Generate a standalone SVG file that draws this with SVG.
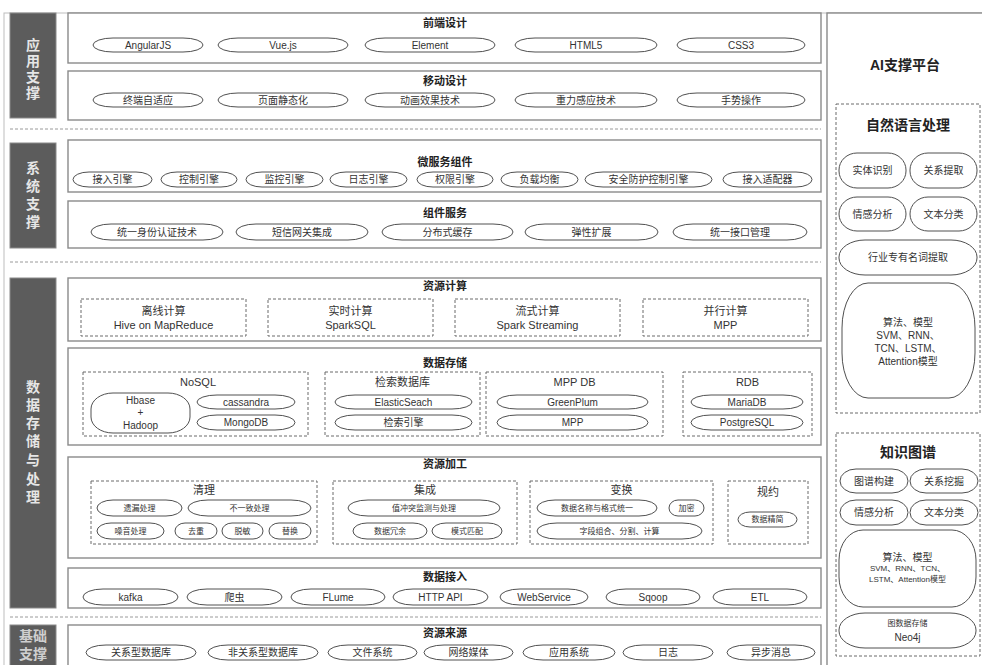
<svg xmlns="http://www.w3.org/2000/svg" width="982" height="665" viewBox="0 0 982 665">
<style>
text{font-family:"Liberation Sans","Noto Sans CJK SC",sans-serif;fill:#333;text-anchor:middle;dominant-baseline:central}
.box{fill:#fff;stroke:#8a8a8a;stroke-width:1.4}
.side{fill:#5c5c5c;stroke:#8a8a8a;stroke-width:1}
.sidet{fill:#e6e6e6;font-size:14px;font-weight:bold}
.dash{fill:none;stroke:#6a6a6a;stroke-width:1;stroke-dasharray:3 2}
.sep{stroke:#9a9a9a;stroke-width:1;stroke-dasharray:3 2;fill:none}
.ov{fill:#fff;stroke:#505050;stroke-width:1}
.t{font-size:10px}
.s{font-size:8px}
.ttl{font-size:11px;font-weight:bold;fill:#222}
.big{font-size:14px;font-weight:bold;fill:#222}
.sub{font-size:11px}
</style>
<rect x="0" y="0" width="982" height="665" fill="#fff"/>
<rect x="4" y="13" width="1000" height="700" fill="none" stroke="#bdbdbd" stroke-width="1"/>
<g id="separators">
<line class="sep" x1="10" y1="129" x2="821" y2="129"/>
<line class="sep" x1="10" y1="262" x2="821" y2="262"/>
<line class="sep" x1="10" y1="617" x2="821" y2="617"/>
</g>

<g id="side-app"><rect class="side" x="10" y="13" width="46" height="105"/>
<text class="sidet" x="33" y="45">应</text><text class="sidet" x="33" y="61">用</text><text class="sidet" x="33" y="77">支</text><text class="sidet" x="33" y="93">撑</text></g>
<g id="side-sys"><rect class="side" x="10" y="143" width="46" height="105"/>
<text class="sidet" x="33" y="168">系</text><text class="sidet" x="33" y="186">统</text><text class="sidet" x="33" y="204">支</text><text class="sidet" x="33" y="222">撑</text></g>
<g id="side-data"><rect class="side" x="10" y="278" width="46" height="330"/>
<text class="sidet" x="33" y="387">数</text><text class="sidet" x="33" y="405">据</text><text class="sidet" x="33" y="423">存</text><text class="sidet" x="33" y="441">储</text><text class="sidet" x="33" y="460">与</text><text class="sidet" x="33" y="479">处</text><text class="sidet" x="33" y="497">理</text></g>
<g id="side-base"><rect class="side" x="10" y="625" width="46" height="50"/>
<text class="sidet" x="33" y="636" style="fill:#cfcfcf">基础</text><text class="sidet" x="33" y="654" style="fill:#cfcfcf">支撑</text></g>

<g id="frontend"><rect class="box" x="68" y="13" width="753" height="50"/>
<text class="ttl" x="445" y="23">前端设计</text>
<rect class="ov" x="93" y="38" width="110" height="14" rx="20" ry="7"/><text class="t" x="148" y="45">AngularJS</text>
<rect class="ov" x="218" y="38" width="130" height="14" rx="20" ry="7"/><text class="t" x="283" y="45">Vue.js</text>
<rect class="ov" x="365" y="38" width="130" height="14" rx="20" ry="7"/><text class="t" x="430" y="45">Element</text>
<rect class="ov" x="515" y="38" width="142" height="14" rx="20" ry="7"/><text class="t" x="586" y="45">HTML5</text>
<rect class="ov" x="677" y="38" width="128" height="14" rx="20" ry="7"/><text class="t" x="741" y="45">CSS3</text></g>

<g id="mobile"><rect class="box" x="68" y="71" width="753" height="49"/>
<text class="ttl" x="445" y="81">移动设计</text>
<rect class="ov" x="93" y="93" width="110" height="14" rx="20" ry="7"/><text class="t" x="148" y="100">终端自适应</text>
<rect class="ov" x="218" y="93" width="130" height="14" rx="20" ry="7"/><text class="t" x="283" y="100">页面静态化</text>
<rect class="ov" x="365" y="93" width="130" height="14" rx="20" ry="7"/><text class="t" x="430" y="100">动画效果技术</text>
<rect class="ov" x="515" y="93" width="142" height="14" rx="20" ry="7"/><text class="t" x="586" y="100">重力感应技术</text>
<rect class="ov" x="677" y="93" width="128" height="14" rx="20" ry="7"/><text class="t" x="741" y="100">手势操作</text></g>

<g id="microservice"><rect class="box" x="68" y="140" width="753" height="52"/>
<text class="ttl" x="445" y="162">微服务组件</text>
<rect class="ov" x="73" y="172" width="79" height="15" rx="16" ry="7.5"/><text class="t" x="112.5" y="179.5">接入引擎</text>
<rect class="ov" x="161" y="172" width="76" height="15" rx="16" ry="7.5"/><text class="t" x="199" y="179.5">控制引擎</text>
<rect class="ov" x="246" y="172" width="77" height="15" rx="16" ry="7.5"/><text class="t" x="284.5" y="179.5">监控引擎</text>
<rect class="ov" x="330" y="172" width="77" height="15" rx="16" ry="7.5"/><text class="t" x="368.5" y="179.5">日志引擎</text>
<rect class="ov" x="417" y="172" width="76" height="15" rx="16" ry="7.5"/><text class="t" x="455" y="179.5">权限引擎</text>
<rect class="ov" x="501" y="172" width="77" height="15" rx="16" ry="7.5"/><text class="t" x="539.5" y="179.5">负载均衡</text>
<rect class="ov" x="585" y="172" width="127" height="15" rx="18" ry="7.5"/><text class="t" x="648.5" y="179.5">安全防护控制引擎</text>
<rect class="ov" x="723" y="172" width="89" height="15" rx="16" ry="7.5"/><text class="t" x="767.5" y="179.5">接入适配器</text></g>

<g id="component"><rect class="box" x="68" y="201" width="753" height="47"/>
<text class="ttl" x="445" y="213">组件服务</text>
<rect class="ov" x="91" y="224" width="132" height="16" rx="20" ry="8"/><text class="t" x="157" y="232">统一身份认证技术</text>
<rect class="ov" x="236" y="224" width="132" height="16" rx="20" ry="8"/><text class="t" x="302" y="232">短信网关集成</text>
<rect class="ov" x="382" y="224" width="131" height="16" rx="20" ry="8"/><text class="t" x="447.5" y="232">分布式缓存</text>
<rect class="ov" x="525" y="224" width="133" height="16" rx="20" ry="8"/><text class="t" x="591.5" y="232">弹性扩展</text>
<rect class="ov" x="673" y="224" width="134" height="16" rx="20" ry="8"/><text class="t" x="740" y="232">统一接口管理</text></g>

<g id="compute"><rect class="box" x="68" y="278" width="753" height="63"/>
<text class="ttl" x="445" y="286">资源计算</text>
<rect class="dash" x="81" y="299" width="165" height="37"/><text class="sub" x="163.5" y="311">离线计算</text><text class="sub" x="163.5" y="325">Hive on MapReduce</text>
<rect class="dash" x="268" y="299" width="165" height="37"/><text class="sub" x="350.5" y="311">实时计算</text><text class="sub" x="350.5" y="325">SparkSQL</text>
<rect class="dash" x="455" y="299" width="165" height="37"/><text class="sub" x="537.5" y="311">流式计算</text><text class="sub" x="537.5" y="325">Spark Streaming</text>
<rect class="dash" x="643" y="299" width="165" height="37"/><text class="sub" x="725.5" y="311">并行计算</text><text class="sub" x="725.5" y="325">MPP</text></g>

<g id="storage"><rect class="box" x="68" y="348" width="753" height="97"/>
<text class="ttl" x="445" y="363">数据存储</text>
<rect class="dash" x="83" y="372" width="225" height="64"/><text class="sub" x="198" y="382">NoSQL</text>
<rect class="ov" x="91" y="393" width="99" height="40" rx="22" ry="16"/><text class="t" x="140.5" y="400">Hbase</text><text class="t" x="140.5" y="412">+</text><text class="t" x="140.5" y="425">Hadoop</text>
<rect class="ov" x="197" y="395" width="98" height="14" rx="20" ry="7"/><text class="t" x="246" y="402">cassandra</text>
<rect class="ov" x="197" y="415" width="98" height="15" rx="20" ry="7.5"/><text class="t" x="246" y="422.5">MongoDB</text>
<rect class="dash" x="325" y="372" width="155" height="64"/><text class="sub" x="402.5" y="382">检索数据库</text>
<rect class="ov" x="335" y="395" width="137" height="14" rx="20" ry="7"/><text class="t" x="403.5" y="402">ElasticSeach</text>
<rect class="ov" x="335" y="415" width="137" height="15" rx="20" ry="7.5"/><text class="t" x="403.5" y="422.5">检索引擎</text>
<rect class="dash" x="486" y="372" width="177" height="64"/><text class="sub" x="574.5" y="382">MPP DB</text>
<rect class="ov" x="497" y="395" width="151" height="14" rx="20" ry="7"/><text class="t" x="572.5" y="402">GreenPlum</text>
<rect class="ov" x="497" y="415" width="151" height="15" rx="20" ry="7.5"/><text class="t" x="572.5" y="422.5">MPP</text>
<rect class="dash" x="683" y="372" width="129" height="64"/><text class="sub" x="747.5" y="382">RDB</text>
<rect class="ov" x="691" y="395" width="112" height="14" rx="20" ry="7"/><text class="t" x="747" y="402">MariaDB</text>
<rect class="ov" x="691" y="415" width="112" height="15" rx="20" ry="7.5"/><text class="t" x="747" y="422.5">PostgreSQL</text></g>

<g id="processing"><rect class="box" x="68" y="457" width="753" height="101"/>
<text class="ttl" x="445" y="464">资源加工</text>
<rect class="dash" x="91" y="481" width="226" height="63"/><text class="sub" x="204" y="490">清理</text>
<rect class="ov" x="97" y="500" width="85" height="16" rx="16" ry="8"/><text class="s" x="139.5" y="508">遗漏处理</text>
<rect class="ov" x="188" y="500" width="123" height="16" rx="20" ry="8"/><text class="s" x="249.5" y="508">不一致处理</text>
<rect class="ov" x="97" y="523" width="67" height="16" rx="14" ry="8"/><text class="s" x="130.5" y="531">噪音处理</text>
<rect class="ov" x="175" y="523" width="42" height="16" rx="10" ry="8"/><text class="s" x="196" y="531">去重</text>
<rect class="ov" x="222" y="523" width="41" height="16" rx="10" ry="8"/><text class="s" x="242.5" y="531">脱敏</text>
<rect class="ov" x="269" y="523" width="42" height="16" rx="10" ry="8"/><text class="s" x="290" y="531">替换</text>
<rect class="dash" x="333" y="481" width="184" height="63"/><text class="sub" x="425" y="490">集成</text>
<rect class="ov" x="348" y="500" width="152" height="16" rx="20" ry="8"/><text class="s" x="424" y="508">值冲突监测与处理</text>
<rect class="ov" x="353" y="523" width="74" height="16" rx="14" ry="8"/><text class="s" x="390" y="531">数据冗余</text>
<rect class="ov" x="432" y="523" width="70" height="16" rx="14" ry="8"/><text class="s" x="467" y="531">模式匹配</text>
<rect class="dash" x="530" y="481" width="183" height="63"/><text class="sub" x="621.5" y="490">变换</text>
<rect class="ov" x="537" y="500" width="120" height="16" rx="18" ry="8"/><text class="s" x="597" y="508">数据名称与格式统一</text>
<rect class="ov" x="669" y="500" width="35" height="16" rx="9" ry="8"/><text class="s" x="686.5" y="508">加密</text>
<rect class="ov" x="537" y="523" width="165" height="16" rx="20" ry="8"/><text class="s" x="619.5" y="531">字段组合、分割、计算</text>
<rect class="dash" x="728" y="481" width="80" height="63"/><text class="sub" x="768" y="492">规约</text>
<rect class="ov" x="738" y="512" width="59" height="15" rx="12" ry="7.5"/><text class="s" x="767.5" y="519.5">数据精简</text></g>

<g id="ingest"><rect class="box" x="68" y="568" width="753" height="40"/>
<text class="ttl" x="445" y="577">数据接入</text>
<rect class="ov" x="83" y="589" width="95" height="16" rx="20" ry="8"/><text class="t" x="130.5" y="597">kafka</text>
<rect class="ov" x="187" y="589" width="95" height="16" rx="20" ry="8"/><text class="t" x="234.5" y="597">爬虫</text>
<rect class="ov" x="291" y="589" width="94" height="16" rx="20" ry="8"/><text class="t" x="338" y="597">FLume</text>
<rect class="ov" x="393" y="589" width="95" height="16" rx="20" ry="8"/><text class="t" x="440.5" y="597">HTTP API</text>
<rect class="ov" x="500" y="589" width="88" height="16" rx="20" ry="8"/><text class="t" x="544" y="597">WebService</text>
<rect class="ov" x="606" y="589" width="94" height="16" rx="20" ry="8"/><text class="t" x="653" y="597">Sqoop</text>
<rect class="ov" x="713" y="589" width="94" height="16" rx="20" ry="8"/><text class="t" x="760" y="597">ETL</text></g>

<g id="source"><rect class="box" x="68" y="625" width="753" height="50"/>
<text class="ttl" x="445" y="633">资源来源</text>
<rect class="ov" x="86" y="645" width="110" height="15" rx="20" ry="7.5"/><text class="t" x="141" y="652.5">关系型数据库</text>
<rect class="ov" x="208" y="645" width="110" height="15" rx="20" ry="7.5"/><text class="t" x="263" y="652.5">非关系型数据库</text>
<rect class="ov" x="328" y="645" width="89" height="15" rx="20" ry="7.5"/><text class="t" x="372.5" y="652.5">文件系统</text>
<rect class="ov" x="424" y="645" width="89" height="15" rx="20" ry="7.5"/><text class="t" x="468.5" y="652.5">网络媒体</text>
<rect class="ov" x="523" y="645" width="92" height="15" rx="20" ry="7.5"/><text class="t" x="569" y="652.5">应用系统</text>
<rect class="ov" x="623" y="645" width="90" height="15" rx="20" ry="7.5"/><text class="t" x="668" y="652.5">日志</text>
<rect class="ov" x="727" y="645" width="88" height="15" rx="20" ry="7.5"/><text class="t" x="771" y="652.5">异步消息</text></g>

<g id="ai-platform"><rect class="box" x="827" y="13" width="200" height="700"/>
<text class="big" x="905" y="65">AI支撑平台</text></g>

<g id="nlp"><rect class="dash" x="836" y="104" width="144" height="309"/>
<text class="big" x="908" y="125">自然语言处理</text>
<rect class="ov" x="839" y="153" width="67" height="35" rx="18" ry="17"/><text class="t" x="872.5" y="170.5">实体识别</text>
<rect class="ov" x="910" y="153" width="67" height="35" rx="18" ry="17"/><text class="t" x="943.5" y="170.5">关系提取</text>
<rect class="ov" x="839" y="197" width="67" height="34" rx="18" ry="17"/><text class="t" x="872.5" y="214">情感分析</text>
<rect class="ov" x="910" y="197" width="67" height="34" rx="18" ry="17"/><text class="t" x="943.5" y="214">文本分类</text>
<rect class="ov" x="839" y="240" width="138" height="35" rx="26" ry="17"/><text class="t" x="908" y="257.5">行业专有名词提取</text>
<rect class="ov" x="842" y="283" width="133" height="115" rx="26" ry="45"/>
<text class="t" x="908" y="322">算法、模型</text><text class="t" x="908" y="335">SVM、RNN、</text><text class="t" x="908" y="348">TCN、LSTM、</text><text class="t" x="908" y="361">Attention模型</text></g>

<g id="kg"><rect class="dash" x="836" y="433" width="144" height="223"/>
<text class="big" x="908" y="452">知识图谱</text>
<rect class="ov" x="840" y="469" width="68" height="24" rx="16" ry="12"/><text class="t" x="874" y="481">图谱构建</text>
<rect class="ov" x="910" y="469" width="68" height="24" rx="16" ry="12"/><text class="t" x="944" y="481">关系挖掘</text>
<rect class="ov" x="840" y="500" width="68" height="25" rx="16" ry="12.5"/><text class="t" x="874" y="512.5">情感分析</text>
<rect class="ov" x="910" y="500" width="68" height="25" rx="16" ry="12.5"/><text class="t" x="944" y="512.5">文本分类</text>
<rect class="ov" x="839" y="530" width="137" height="77" rx="24" ry="30"/>
<text class="t" x="907.5" y="557">算法、模型</text><text class="s" x="907.5" y="568">SVM、RNN、TCN、</text><text class="s" x="907.5" y="579">LSTM、Attention模型</text>
<rect class="ov" x="839" y="613" width="137" height="35" rx="26" ry="17"/><text class="s" x="907.5" y="623">图数据存储</text><text class="t" x="907.5" y="637">Neo4j</text></g>
</svg>
